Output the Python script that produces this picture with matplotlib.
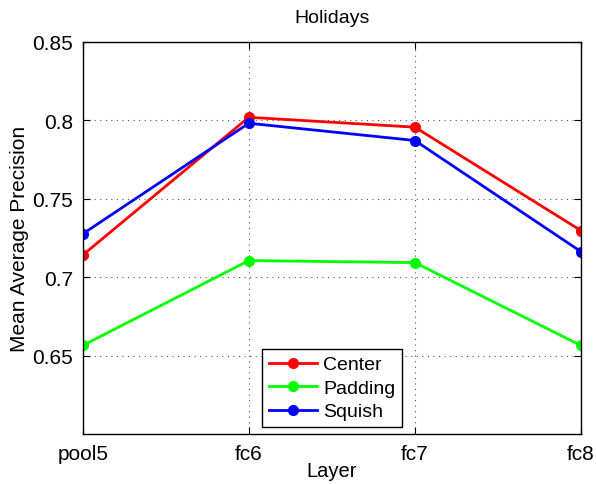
import numpy as np
import matplotlib
matplotlib.use("Agg")
import matplotlib.pyplot as plt

plt.rcParams['font.family'] = ['Liberation Sans', 'DejaVu Sans']

layers = ["pool5", "fc6", "fc7", "fc8"]
center = [0.714, 0.8018, 0.7955, 0.7296]
padding = [0.6564, 0.7105, 0.7092, 0.6564]
squish = [0.7275, 0.798, 0.787, 0.7162]

fig = plt.figure(figsize=(5.96, 4.85), dpi=100)
ax = fig.add_axes([0.1388, 0.1031, 0.836, 0.809])

x = np.arange(len(layers))
ax.plot(x, center, color="#ff0000", lw=2, marker="o", ms=7, label="Center")
ax.plot(x, padding, color="#00ff00", lw=2, marker="o", ms=7, label="Padding")
ax.plot(x, squish, color="#0000ff", lw=2, marker="o", ms=7, label="Squish")

ax.set_xlim(0, 3)
ax.set_ylim(0.6, 0.85)
ax.set_xticks(x)
ax.set_xticklabels(layers)
ax.set_yticks([0.65, 0.7, 0.75, 0.8, 0.85])
ax.set_yticklabels(["0.65", "0.7", "0.75", "0.8", "0.85"])
ax.tick_params(direction="in", length=5, width=0.8, top=True, right=True,
               labelsize=15, pad=7, color="black")
ax.grid(True, linestyle=(0, (1, 4)), color="#555555", lw=0.8)
for s in ax.spines.values():
    s.set_linewidth(1.0)

ax.set_title("Holidays", fontsize=14, pad=14)
ax.set_xlabel("Layer", fontsize=14.5, labelpad=-1)
ax.set_ylabel("Mean Average Precision", fontsize=15, labelpad=2)

leg = ax.legend(loc="lower center", fontsize=14, handlelength=2.5,
                handletextpad=0.3, labelspacing=0.3, borderpad=0.35,
                borderaxespad=0.35, fancybox=False, framealpha=1,
                edgecolor="black")
leg.get_frame().set_linewidth(1.0)

fig.savefig("out.png", dpi=100)
